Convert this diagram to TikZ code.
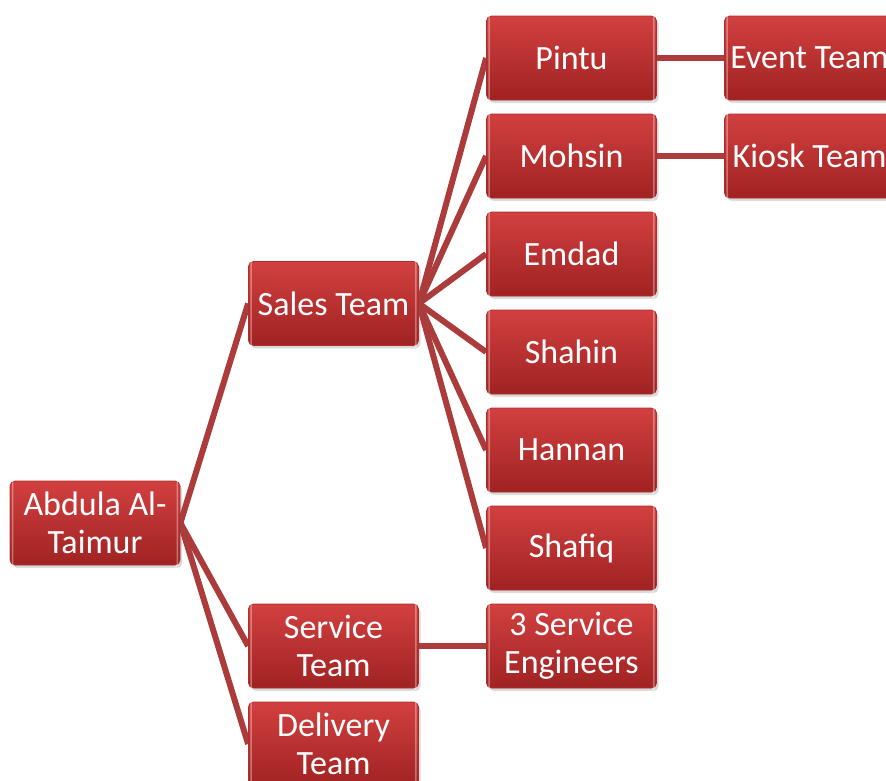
\documentclass[tikz,border=0pt]{standalone}
\usepackage{fontspec}
\setmainfont{Carlito}
\usetikzlibrary{shadows,backgrounds}

\definecolor{boxtop}{RGB}{210,64,64}
\definecolor{boxbot}{RGB}{160,34,34}
\definecolor{boxedge}{RGB}{178,44,44}
\definecolor{linkred}{RGB}{172,60,60}

\tikzset{
  orgbox/.style={
    rectangle, rounded corners=5pt,
    minimum width=170pt, minimum height=84pt,
    inner sep=2pt, align=center,
    top color=boxtop, bottom color=boxbot,
    draw=boxedge, line width=0.8pt,
    text=white, font=\fontsize{34}{38}\selectfont,
    drop shadow={shadow xshift=2pt, shadow yshift=-3pt, opacity=0.25, fill=black!60}
  },
  link/.style={draw=linkred, line width=6pt},
  gloss/.style={draw=white, opacity=0.35, line width=1.6pt, rounded corners=4pt}
}

\begin{document}
\begin{tikzpicture}[x=1pt, y=-1pt]
  \useasboundingbox (0,0) rectangle (886,780);

  % root
  \node[orgbox] (root) at (95,523) {Abdula Al-\\Taimur};

  % second level
  \node[orgbox] (sales)    at (333.5,303.5) {Sales Team};
  \node[orgbox] (service)  at (333.5,646)   {Service\\Team};
  \node[orgbox] (delivery) at (333.5,744)   {Delivery\\Team};

  % third level
  \node[orgbox] (pintu)  at (571.5,58)  {Pintu};
  \node[orgbox] (mohsin) at (571.5,156) {Mohsin};
  \node[orgbox] (emdad)  at (571.5,254) {Emdad};
  \node[orgbox] (shahin) at (571.5,352) {Shahin};
  \node[orgbox] (hannan) at (571.5,450) {Hannan};
  \node[orgbox] (shafiq) at (571.5,548) {Shafiq};
  \node[orgbox] (eng)    at (571.5,646) {3 Service\\Engineers};

  % fourth level
  \node[orgbox] (event) at (809.5,58)  {Event Team};
  \node[orgbox] (kiosk) at (809.5,156) {Kiosk Team};

  % glossy inner rim on every box
  \foreach \n in {root,sales,service,delivery,pintu,mohsin,emdad,shahin,hannan,shafiq,eng,event,kiosk}{
    \draw[gloss] ([shift={(3pt,3pt)}]\n.north west) rectangle ([shift={(-3pt,-3pt)}]\n.south east);
  }

  % connectors behind the boxes
  \begin{pgfonlayer}{background}
    \foreach \c in {sales,service,delivery}
      \draw[link] (root.east) -- (\c.west);
    \foreach \c in {pintu,mohsin,emdad,shahin,hannan,shafiq}
      \draw[link] (sales.east) -- (\c.west);
    \draw[link] (service.east) -- (eng.west);
    \draw[link] (pintu.east) -- (event.west);
    \draw[link] (mohsin.east) -- (kiosk.west);
  \end{pgfonlayer}
\end{tikzpicture}
\end{document}
